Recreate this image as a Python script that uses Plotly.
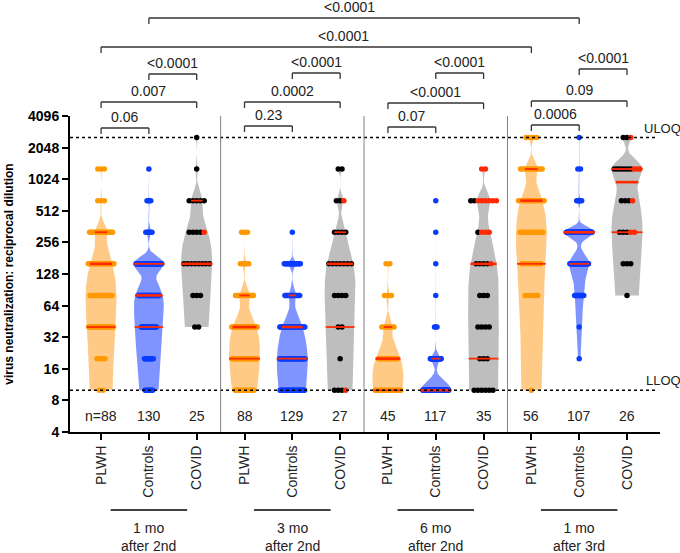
import numpy as np
import plotly.graph_objects as go

# ---------------- data ----------------
levels = [10, 20, 40, 80, 160, 320, 640, 1280, 2560]
groups = ["PLWH", "Controls", "COVID"]
timepoints = ["1 mo<br>after 2nd", "3 mo<br>after 2nd", "6 mo<br>after 2nd", "1 mo<br>after 3rd"]

# number of participants at each titer level (levels order)
plwh_1mo2 = [2, 4, 20, 17, 21, 18, 3, 3, 0]
ctrl_1mo2 = [8, 10, 22, 34, 46, 6, 3, 1, 0]
covid_1mo2 = [0, 0, 2, 3, 8, 5, 5, 1, 1]
plwh_3mo2 = [16, 24, 25, 15, 5, 3, 0, 0, 0]
ctrl_3mo2 = [31, 33, 32, 15, 17, 1, 0, 0, 0]
covid_3mo2 = [4, 1, 2, 4, 7, 4, 3, 2, 0]
plwh_6mo2 = [20, 13, 7, 3, 2, 0, 0, 0, 0]
ctrl_6mo2 = [85, 25, 3, 1, 1, 1, 1, 0, 0]
covid_6mo2 = [6, 3, 4, 3, 5, 4, 8, 2, 0]
plwh_1mo3 = [1, 0, 0, 5, 9, 12, 14, 11, 4]
ctrl_1mo3 = [0, 1, 1, 12, 33, 52, 5, 2, 1]
covid_1mo3 = [0, 0, 0, 1, 3, 5, 4, 10, 3]

# COVID participants shown in red (subset of the COVID counts)
red_1mo2 = [0, 0, 0, 0, 0, 1, 0, 0, 0]
red_3mo2 = [1, 0, 0, 0, 0, 0, 1, 0, 0]
red_6mo2 = [0, 0, 0, 0, 1, 3, 6, 2, 0]
red_1mo3 = [0, 0, 0, 0, 0, 2, 1, 3, 1]

all_counts = [plwh_1mo2, ctrl_1mo2, covid_1mo2,
              plwh_3mo2, ctrl_3mo2, covid_3mo2,
              plwh_6mo2, ctrl_6mo2, covid_6mo2,
              plwh_1mo3, ctrl_1mo3, covid_1mo3]
red_counts = {2: red_1mo2, 5: red_3mo2, 8: red_6mo2, 11: red_1mo3}

uloq = 2560
lloq = 10
y_ticks = [4, 8, 16, 32, 64, 128, 256, 512, 1024, 2048, 4096]

bracket_pairs = [(0, 1), (0, 2), (1, 2), (3, 4), (3, 5), (4, 5), (6, 7), (6, 8), (7, 8),
                 (9, 10), (9, 11), (10, 11), (0, 9), (1, 10)]
bracket_labels = ["0.06", "0.007", "&lt;0.0001", "0.23", "0.0002", "&lt;0.0001",
                  "0.07", "&lt;0.0001", "&lt;0.0001", "0.0006", "0.09", "&lt;0.0001",
                  "&lt;0.0001", "&lt;0.0001"]

# ---------------- layout geometry / style ----------------
W, H = 680, 553
ML, MR, MT, MB = 70, 20, 116, 121
PW, PH = W - ML - MR, H - MT - MB
XR = [-0.65, 11.69]
PXU = PW / (XR[1] - XR[0])
FONT = "Liberation Sans, Arial, sans-serif"

bracket_top_px = [128, 102, 74, 126, 102, 73, 127, 103, 73, 125, 101, 69, 47, 18]
bracket_text_x = {12: 5.08, 13: 5.2}


def py2paper(py):
    return (H - MB - py) / PH


fill_col = {"PLWH": "#FFCA86", "Controls": "#8094FF", "COVID": "#BEBEBE"}
dot_col = {"PLWH": "#FF9900", "Controls": "#0A3CFF", "COVID": "#000000"}
RED = "#FF2A00"
HALF = 0.325          # half of max violin width (category units)
DOT = 5.5             # dot diameter px
BW = 0.7              # bandwidth factor

fig = go.Figure()
viol_traces, dot_traces, line_traces = [], [], []

for gi, cnt in enumerate(all_counts):
    grp = groups[gi % 3]
    cnt = np.array(cnt)
    lev = np.array(levels, dtype=float)
    vals = np.repeat(lev, cnt)
    n = len(vals)
    q1, med, q3 = np.percentile(vals, [25, 50, 75], method="weibull")
    sd = vals.std(ddof=1)
    iqr = q3 - q1
    s = min(sd, iqr / 1.349) if iqr > 0 else sd
    h = BW * 1.059 * s * n ** -0.2

    def dens(y):
        y = np.atleast_1d(np.asarray(y, dtype=float))
        return np.sum(cnt[None, :] * np.exp(-0.5 * ((y[:, None] - lev[None, :]) / h) ** 2), axis=1)

    g = np.linspace(np.log2(vals.min()), np.log2(vals.max()), 700)
    yv = 2 ** g
    f = dens(yv)
    fmax = f.max()
    hw = HALF * f / fmax
    viol_traces.append(go.Scatter(
        x=np.concatenate([gi + hw, gi - hw[::-1]]),
        y=np.concatenate([yv, yv[::-1]]),
        fill="toself", fillcolor=fill_col[grp], mode="lines",
        line=dict(width=0, color=fill_col[grp]), hoverinfo="skip", showlegend=False))

    # dots
    nmax = cnt.max()
    reds = red_counts.get(gi, [0] * len(levels))
    xs, ys, cs = [], [], []
    for li, k in enumerate(cnt):
        if k == 0:
            continue
        if k == 1:
            wpx = DOT
        else:
            wpx = min(DOT + (k - 1) * 3.75, DOT + (2 * HALF * PXU - DOT) * (k / nmax) ** 0.7)
        offs = np.linspace(-(wpx - DOT) / 2, (wpx - DOT) / 2, k) / PXU
        for j, o in enumerate(offs):
            xs.append(gi + o)
            ys.append(levels[li])
            cs.append(RED if j >= k - reds[li] else dot_col[grp])
    dot_traces.append(go.Scatter(x=xs, y=ys, mode="markers",
                                 marker=dict(size=DOT, color=cs, line=dict(width=0)),
                                 hoverinfo="skip", showlegend=False))

    # quartile / median lines
    for q, lw in [(q1, 1.8), (q3, 1.8), (med, 2.6)]:
        hq = HALF * dens(q)[0] / fmax
        line_traces.append(go.Scatter(x=[gi - hq, gi + hq], y=[q, q], mode="lines",
                                      line=dict(color=RED, width=lw),
                                      hoverinfo="skip", showlegend=False))

for t in viol_traces + dot_traces + line_traces:
    fig.add_trace(t)

# LOQ lines
for v in (uloq, lloq):
    fig.add_trace(go.Scatter(x=[XR[0], 11.65], y=[v, v], mode="lines",
                             line=dict(color="black", width=1.5, dash="dot"),
                             hoverinfo="skip", showlegend=False))

shapes = []
# dividers between time points
for xd in (2.5, 5.5, 8.5):
    shapes.append(dict(type="line", xref="x", yref="paper", x0=xd, x1=xd, y0=0, y1=1,
                       line=dict(color="#808080", width=1)))

annotations = []
# significance brackets
for bi, ((a, b), lab, top) in enumerate(zip(bracket_pairs, bracket_labels, bracket_top_px)):
    yt = py2paper(top)
    yl = py2paper(top + 6)
    for (x0, y0, x1, y1) in [(a, yl, a, yt), (a, yt, b, yt), (b, yt, b, yl)]:
        shapes.append(dict(type="line", xref="x", yref="paper", x0=x0, x1=x1, y0=y0, y1=y1,
                           line=dict(color="#333333", width=1.3)))
    annotations.append(dict(x=bracket_text_x.get(bi, (a + b) / 2), y=py2paper(top - 11),
                            xref="x", yref="paper", text=lab, showarrow=False,
                            yanchor="middle", xanchor="center",
                            font=dict(family=FONT, size=14, color="#222222")))

# n labels
for gi, cnt in enumerate(all_counts):
    txt = ("n=" if gi == 0 else "") + str(int(sum(cnt)))
    annotations.append(dict(x=gi, y=py2paper(416), xref="x", yref="paper", text=txt,
                            showarrow=False, yanchor="middle",
                            font=dict(family=FONT, size=14, color="#222222")))

# time point group labels
for ti, tp in enumerate(timepoints):
    mid = ti * 3 + 1
    shapes.append(dict(type="line", xref="x", yref="paper", x0=mid - 0.8, x1=mid + 0.8,
                       y0=py2paper(510), y1=py2paper(510), line=dict(color="black", width=1.5)))
    annotations.append(dict(x=mid, y=py2paper(518), xref="x", yref="paper", text=tp,
                            showarrow=False, yanchor="top", xanchor="center",
                            font=dict(family=FONT, size=14, color="#222222")))

annotations.append(dict(x=(642 - ML) / PW, y=py2paper(128), xref="paper", yref="paper",
                        text="ULOQ", showarrow=False, xanchor="left", yanchor="middle",
                        font=dict(family=FONT, size=13, color="#222222")))
annotations.append(dict(x=(644 - ML) / PW, y=py2paper(380), xref="paper", yref="paper",
                        text="LLOQ", showarrow=False, xanchor="left", yanchor="middle",
                        font=dict(family=FONT, size=13, color="#222222")))

fig.update_layout(
    width=W, height=H,
    margin=dict(l=ML, r=MR, t=MT, b=MB, pad=0),
    paper_bgcolor="white", plot_bgcolor="white",
    font=dict(family=FONT, color="#222222"),
    showlegend=False,
    shapes=shapes, annotations=annotations,
    xaxis=dict(range=XR, tickmode="array", tickvals=list(range(12)),
               ticktext=groups * 4, tickangle=-90,
               tickfont=dict(family=FONT, size=14, color="#222222"),
               ticks="outside", ticklen=6, tickwidth=2, tickcolor="black",
               showline=True, linewidth=2, linecolor="black",
               showgrid=False, zeroline=False, automargin=False),
    yaxis=dict(type="log", range=[np.log10(4), np.log10(4096)], tickmode="array",
               tickvals=y_ticks, ticktext=[str(v) for v in y_ticks],
               tickfont=dict(family=FONT, size=14, color="black", weight="bold"),
               ticks="outside", ticklen=6, tickwidth=2, tickcolor="black",
               showline=True, linewidth=2, linecolor="black",
               showgrid=False, zeroline=False, automargin=False,
               title=dict(text="<b>virus neutralization: reciprocal dilution</b>",
                          font=dict(family=FONT, size=12, color="black"), standoff=12)),
)

fig.write_html("out.html", config={"displayModeBar": False},
               post_script="document.body.style.margin='0px';document.body.style.overflow='hidden';")
